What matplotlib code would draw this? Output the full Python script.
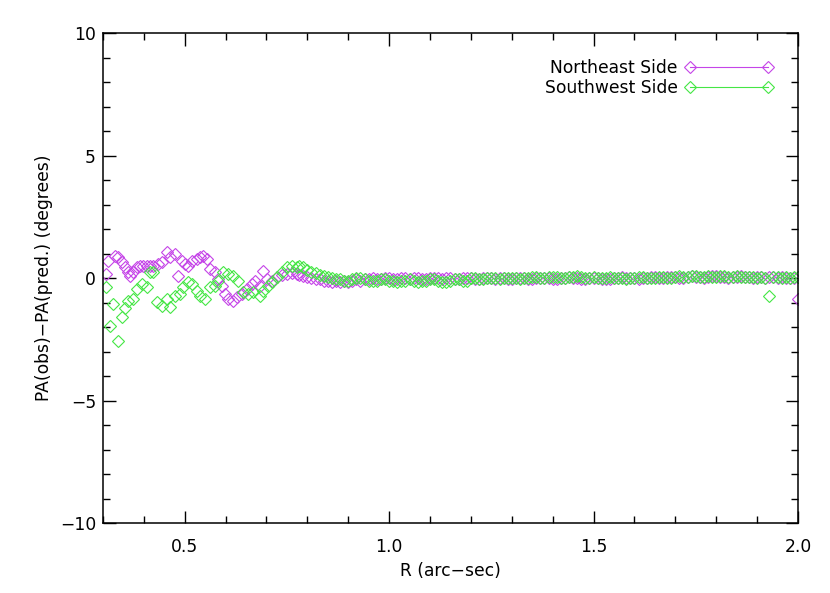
import numpy as np
import matplotlib
matplotlib.use("Agg")
import matplotlib.pyplot as plt
from matplotlib.lines import Line2D
from matplotlib.ticker import MultipleLocator

# ---- Inner, noisy region (read point by point) ----
ne_r_inner = [0.307, 0.312, 0.329, 0.337, 0.347, 0.354, 0.361, 0.366, 0.374, 0.383,
              0.391, 0.398, 0.408, 0.415, 0.423, 0.435, 0.445, 0.457, 0.464, 0.476,
              0.484, 0.494, 0.501, 0.508, 0.518, 0.530, 0.538, 0.545, 0.555, 0.562,
              0.575, 0.582, 0.592, 0.599, 0.606, 0.619, 0.628, 0.641, 0.653, 0.665,
              0.673, 0.685, 0.692, 0.702, 0.714, 0.726, 0.739, 0.751, 0.763, 0.775]
ne_v_inner = [0.16, 0.7, 0.9, 0.86, 0.65, 0.45, 0.24, 0.08, 0.24, 0.45,
              0.5, 0.5, 0.5, 0.5, 0.5, 0.57, 0.65, 1.06, 0.86, 0.98,
              0.08, 0.7, 0.57, 0.5, 0.7, 0.78, 0.86, 0.9, 0.78, 0.37,
              0.24, -0.04, -0.33, -0.65, -0.86, -0.94, -0.78, -0.65, -0.45, -0.24,
              -0.12, -0.33, 0.29, -0.04, -0.12, 0.04, 0.12, 0.16, 0.2, 0.15]

sw_r_inner = [0.307, 0.317, 0.325, 0.337, 0.347, 0.354, 0.361, 0.374, 0.383, 0.396,
              0.408, 0.415, 0.423, 0.432, 0.445, 0.457, 0.464, 0.476, 0.489, 0.496,
              0.508, 0.518, 0.530, 0.538, 0.550, 0.562, 0.575, 0.582, 0.594, 0.606,
              0.619, 0.631, 0.643, 0.655, 0.668, 0.685, 0.692, 0.704, 0.714, 0.726,
              0.739, 0.751, 0.763, 0.775]
sw_v_inner = [-0.37, -1.96, -1.06, -2.57, -1.6, -1.2, -0.94, -0.86, -0.45, -0.24,
              -0.37, 0.24, 0.24, -0.98, -1.14, -0.86, -1.18, -0.73, -0.65, -0.37,
              -0.16, -0.24, -0.53, -0.73, -0.86, -0.37, -0.33, -0.12, 0.24, 0.16,
              0.08, -0.12, -0.57, -0.65, -0.57, -0.73, -0.53, -0.33, -0.16, 0.04,
              0.24, 0.45, 0.49, 0.45]

# ---- Outer, flat region: R = 0.78 .. 2.00 in 0.01 steps ----
r_outer = np.round(np.arange(0.78, 2.0001, 0.01), 2)

ne_v_outer = [
    0.12, 0.1, 0.05, 0.0, -0.05, -0.05, -0.1, -0.1, -0.15, -0.1,          # 0.78-0.87
    -0.15, -0.1, -0.15, -0.1, -0.05, -0.1, -0.05, -0.05, 0.0, -0.05,      # 0.88-0.97
    -0.05, 0.0, 0.0, -0.05, -0.05, 0.0, 0.0, -0.05, 0.0, 0.0,             # 0.98-1.07
    -0.05, -0.05, 0.0, 0.0, 0.0, -0.05, 0.0, 0.0, -0.05, -0.05,           # 1.08-1.17
    0.0, 0.0, 0.0, -0.05, -0.05, 0.0, 0.0, 0.0, -0.05, 0.0,               # 1.18-1.27
    0.0, -0.05, -0.05, 0.0, 0.0, 0.0, -0.05, -0.05, 0.0, 0.0,             # 1.28-1.37
    0.0, 0.0, -0.05, -0.05, 0.0, 0.0, 0.05, 0.0, 0.0, -0.05,              # 1.38-1.47
    -0.05, 0.0, 0.0, 0.0, -0.05, -0.05, -0.05, 0.0, 0.0, 0.05,            # 1.48-1.57
    0.0, 0.0, 0.0, -0.05, 0.0, 0.0, 0.05, 0.05, 0.0, 0.0,                 # 1.58-1.67
    0.05, 0.05, 0.05, 0.0, 0.0, 0.05, 0.1, 0.05, 0.05, 0.0,               # 1.68-1.77
    0.05, 0.1, 0.1, 0.05, 0.05, 0.0, 0.05, 0.05, 0.1, 0.05,               # 1.78-1.87
    0.05, 0.0, 0.05, 0.05, 0.0, 0.05, 0.05, 0.0, 0.05, 0.0,               # 1.88-1.97
    0.0, 0.0, -0.85,                                                       # 1.98-2.00
]

sw_v_outer = [
    0.5, 0.45, 0.35, 0.25, 0.2, 0.12, 0.08, 0.05, 0.0, -0.05,             # 0.78-0.87
    -0.05, -0.1, -0.1, -0.05, 0.0, 0.0, -0.05, -0.1, -0.1, -0.1,          # 0.88-0.97
    -0.05, -0.05, -0.1, -0.1, -0.15, -0.1, -0.1, -0.05, -0.1, -0.15,      # 0.98-1.07
    -0.1, -0.1, -0.05, -0.05, -0.1, -0.15, -0.15, -0.1, -0.05, -0.05,     # 1.08-1.17
    -0.1, -0.1, 0.0, 0.0, -0.05, -0.05, 0.0, 0.0, 0.0, -0.05,             # 1.18-1.27
    0.0, 0.0, 0.0, 0.0, -0.05, 0.0, 0.0, 0.05, 0.05, 0.0,                 # 1.28-1.37
    0.0, 0.05, 0.05, 0.05, 0.0, 0.0, 0.05, 0.05, 0.1, 0.05,               # 1.38-1.47
    0.0, 0.0, 0.05, 0.0, 0.0, 0.0, 0.05, 0.0, 0.0, 0.0,                   # 1.48-1.57
    -0.05, 0.0, 0.0, 0.05, 0.05, 0.0, 0.0, 0.0, 0.05, 0.05,               # 1.58-1.67
    0.0, 0.0, 0.05, 0.1, 0.05, 0.05, 0.1, 0.1, 0.05, 0.05,                # 1.68-1.77
    0.1, 0.05, 0.05, 0.1, 0.1, 0.05, 0.05, 0.1, 0.05, 0.05,               # 1.78-1.87
    0.05, 0.05, 0.0, 0.05, 0.0, -0.75, 0.05, 0.05, 0.0, 0.05,             # 1.88-1.97
    0.0, 0.05, 0.05,                                                       # 1.98-2.00
]

ne_r = list(ne_r_inner) + list(r_outer)
ne_v = list(ne_v_inner) + list(ne_v_outer)
sw_r = list(sw_r_inner) + list(r_outer)
sw_v = list(sw_v_inner) + list(sw_v_outer)

labels = ["Northeast Side", "Southwest Side"]
c_ne = "#c545e8"
c_sw = "#45e645"

plt.rcParams['font.family'] = ['DejaVu Sans']
fig = plt.figure(figsize=(8.30, 5.93), dpi=100)
ax = fig.add_axes([0.124, 0.118, 0.8374, 0.826])

ms = 6.0
ax.plot(ne_r, ne_v, linestyle='none', marker='D', ms=ms, mfc='none',
        mec=c_ne, mew=0.8)
ax.plot(sw_r, sw_v, linestyle='none', marker='D', ms=ms, mfc='none',
        mec=c_sw, mew=0.8)

fs = 12.3
ax.set_xlim(0.3, 2.0)
ax.set_ylim(-10, 10)
ax.xaxis.set_minor_locator(MultipleLocator(0.1))
ax.yaxis.set_minor_locator(MultipleLocator(1))
ax.set_xticks([0.5, 1.0, 1.5, 2.0])
ax.set_xticklabels(["0.5", "1.0", "1.5", "2.0"])
ax.set_yticks([-10, -5, 0, 5, 10])
ax.set_yticklabels(["\u221210", "\u22125", "0", "5", "10"])
ax.tick_params(which='both', direction='in', top=True, right=True,
               labelsize=fs, width=1.0, color='black')
ax.tick_params(which='major', length=9)
ax.tick_params(axis='x', which='major', pad=11)
ax.tick_params(axis='y', which='major', pad=5)
ax.tick_params(which='minor', length=5)
for s in ax.spines.values():
    s.set_linewidth(1.1)

ax.set_xlabel("R (arc\u2212sec)", fontsize=fs, labelpad=4)
ax.set_ylabel("PA(obs)\u2212PA(pred.) (degrees)", fontsize=fs, labelpad=5)

handles = [Line2D([0], [0], color=c_ne, lw=0.8, marker='D', ms=ms,
                  mfc='none', mec=c_ne, mew=0.8),
           Line2D([0], [0], color=c_sw, lw=0.8, marker='D', ms=ms,
                  mfc='none', mec=c_sw, mew=0.8)]
ax.legend(handles, labels, loc='upper right', frameon=False, numpoints=2,
          markerfirst=False, handlelength=5.2, handletextpad=0.4,
          fontsize=fs, labelspacing=0.12, borderaxespad=0.3,
          bbox_to_anchor=(0.982, 0.972))

fig.savefig("out.png", dpi=100)
